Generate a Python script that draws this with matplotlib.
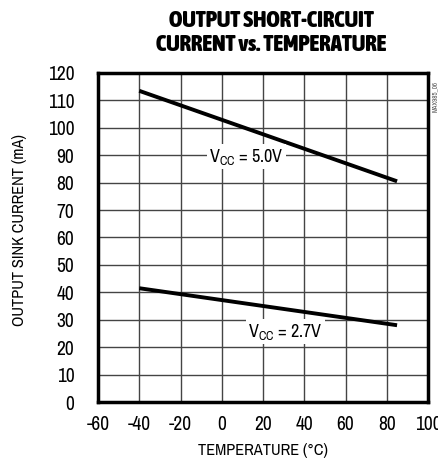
import matplotlib
matplotlib.use("Agg")
import matplotlib.pyplot as plt
from matplotlib import font_manager
from matplotlib.font_manager import FontProperties

fonts = font_manager.fontManager.ttflist

def wnum(w):
    if isinstance(w, (int, float)):
        return w
    return {'normal': 400, 'regular': 400, 'bold': 700, 'heavy': 800, 'black': 900}.get(str(w).lower(), 400)

cands = [f for f in fonts if ('Narrow' in f.name or 'Condensed' in f.name) and f.style == 'normal']
reg = [f for f in cands if wnum(f.weight) == 400]
bold = sorted([f for f in cands if wnum(f.weight) >= 700], key=lambda f: -wnum(f.weight))
narrow = reg[0].name if reg else 'Liberation Sans'
if bold:
    title_fp = FontProperties(fname=bold[0].fname, size=16.5)
else:
    title_fp = FontProperties(family=[narrow, 'Liberation Sans'], weight='bold', size=16.5)

plt.rcParams['font.family'] = [narrow, 'Liberation Sans', 'DejaVu Sans']
plt.rcParams['mathtext.fontset'] = 'custom'
plt.rcParams['mathtext.rm'] = narrow

temp_5v = [-40, 85]
curr_5v = [113.5, 80.5]
temp_27v = [-40, 85]
curr_27v = [41.5, 28]
xticks = [-60, -40, -20, 0, 20, 40, 60, 80, 100]
yticks = list(range(0, 121, 10))

fig = plt.figure(figsize=(4.38, 4.62), dpi=100)
ax = fig.add_axes([98/438, 1-402/462, 330/438, 329/462])
ax.set_xlim(-60, 100)
ax.set_ylim(0, 120)
ax.set_xticks(xticks)
ax.set_yticks(yticks)
ax.set_xticklabels([str(t) for t in xticks], fontsize=14)
ax.set_yticklabels([str(t) for t in yticks], fontsize=14)
ax.tick_params(axis='x', length=0, pad=9)
ax.tick_params(axis='y', length=0, pad=17)
ax.grid(True, color='#444444', linewidth=1.0)
for s in ax.spines.values():
    s.set_linewidth(2.5)
    s.set_color('black')

ax.plot(temp_5v, curr_5v, color='black', linewidth=2.8, solid_capstyle='butt', zorder=3)
ax.plot(temp_27v, curr_27v, color='black', linewidth=2.8, solid_capstyle='butt', zorder=3)

ax.text(12, 89.5, r'V$_{\mathregular{CC}}$ = 5.0V', fontsize=13, ha='center', va='center',
        bbox=dict(facecolor='white', edgecolor='none', pad=1.5), zorder=4)
ax.text(31, 25.7, r'V$_{\mathregular{CC}}$ = 2.7V', fontsize=13, ha='center', va='center',
        bbox=dict(facecolor='white', edgecolor='none', pad=1.5), zorder=4)

ax.set_xlabel('TEMPERATURE (°C)', fontsize=11.8, labelpad=7)
ax.set_ylabel('OUTPUT SINK CURRENT (mA)', fontsize=11.8)
ax.yaxis.set_label_coords(-0.215, 0.523)

fig.text(271/438, 1-33/462, 'OUTPUT SHORT-CIRCUIT\nCURRENT vs. TEMPERATURE', ha='center', va='center',
         fontproperties=title_fp, linespacing=1.1)
fig.text(435/438, 1-96/462, 'MAX985_06', rotation=90, fontsize=5, color='#555555', ha='center', va='center')

fig.savefig('out.png', dpi=100)
